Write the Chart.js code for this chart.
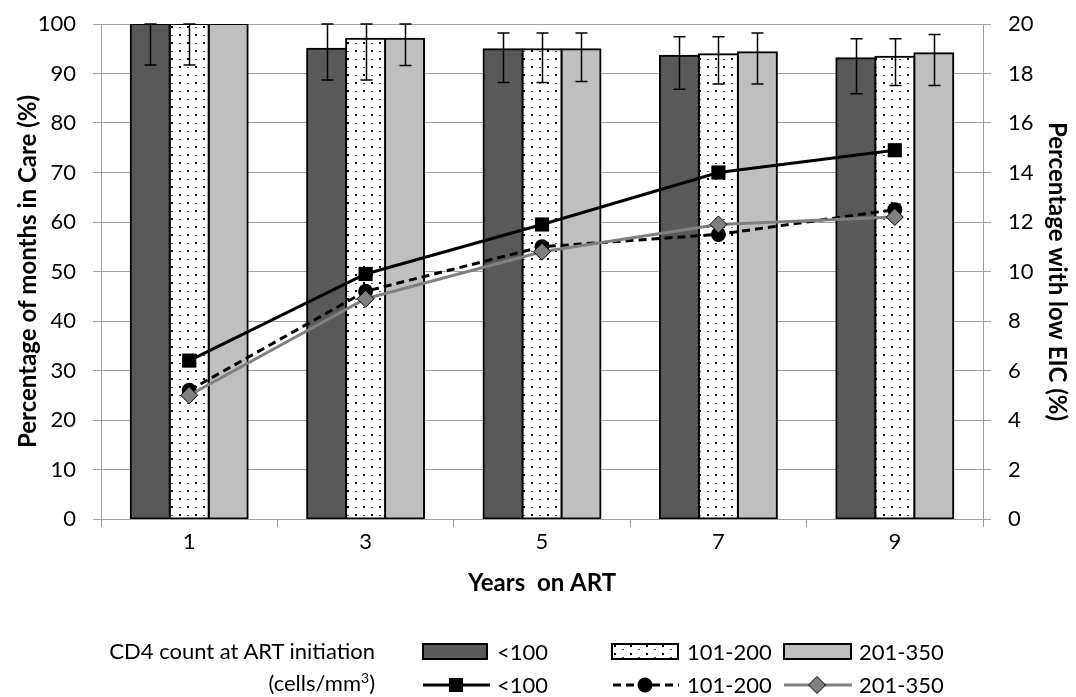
<!DOCTYPE html>
<html>
<head>
<meta charset="utf-8">
<script src="https://cdn.jsdelivr.net/npm/chart.js@4/dist/chart.umd.min.js"></script>
<style>
  html, body { margin: 0; padding: 0; background: #fff; }
  #wrap { position: relative; width: 1076px; height: 697px; font-family: Lato, sans-serif; color: #000; overflow: hidden; }
  #chart { position: absolute; left: 0; top: 0; }
  .lg { position: absolute; font-size: 22px; line-height: 22px; white-space: nowrap; }
  .ttl { right: 701px; text-align: right; }
  .sw { position: absolute; }
</style>
</head>
<body>
<div id="wrap">
  <canvas id="chart" width="1076" height="697"></canvas>

  <div class="lg ttl" style="top:640px">CD4 count at ART initiation</div>
  <div class="lg ttl" style="top:672px">(cells/mm<sup style="font-size:14px;vertical-align:8px;line-height:0">3</sup>)</div>

  <svg class="sw" style="left:422px;top:643px" width="66" height="17">
    <rect x="1" y="1" width="64" height="15" fill="#595959" stroke="#000" stroke-width="2"/>
  </svg>
  <div class="lg" style="left:497px;top:641px">&lt;100</div>

  <svg class="sw" style="left:611px;top:643px" width="68" height="17">
    <defs>
      <pattern id="dots" width="16" height="8" patternUnits="userSpaceOnUse">
        <rect x="3" y="2" width="2" height="2" fill="#000"/>
        <rect x="11" y="6" width="2" height="1" fill="#444"/>
      </pattern>
    </defs>
    <rect x="1" y="1" width="66" height="15" fill="#fff" stroke="#000" stroke-width="2"/>
    <rect x="2" y="2" width="64" height="13" fill="url(#dots)"/>
  </svg>
  <div class="lg" style="left:687px;top:641px">101-200</div>

  <svg class="sw" style="left:783px;top:643px" width="69" height="17">
    <rect x="1" y="1" width="67" height="15" fill="#bfbfbf" stroke="#000" stroke-width="2"/>
  </svg>
  <div class="lg" style="left:859px;top:641px">201-350</div>

  <svg class="sw" style="left:422px;top:675px" width="70" height="20">
    <line x1="1" y1="10" x2="68" y2="10" stroke="#000" stroke-width="3"/>
    <rect x="27" y="3" width="14" height="14" fill="#000"/>
  </svg>
  <div class="lg" style="left:497px;top:674px">&lt;100</div>

  <svg class="sw" style="left:611px;top:675px" width="70" height="20">
    <line x1="2" y1="10" x2="68" y2="10" stroke="#000" stroke-width="3" stroke-dasharray="8,5"/>
    <circle cx="34" cy="10" r="7.5" fill="#000"/>
  </svg>
  <div class="lg" style="left:687px;top:674px">101-200</div>

  <svg class="sw" style="left:782px;top:675px" width="72" height="20">
    <line x1="2" y1="10" x2="70" y2="10" stroke="#808080" stroke-width="3"/>
    <polygon points="35,1.5 43.5,10 35,18.5 26.5,10" fill="#808080" stroke="#000" stroke-width="1"/>
  </svg>
  <div class="lg" style="left:859px;top:674px">201-350</div>
</div>

<script>
// Years since ART start
const years = ['1', '3', '5', '7', '9'];

// Percentage of months in care, by CD4 count at ART initiation
const careLt100   = [100, 95.0, 94.9, 93.6, 93.1];
const care101_200 = [100, 97.0, 94.9, 93.9, 93.4];
const care201_350 = [100, 97.0, 94.9, 94.3, 94.1];

// Error bar bounds for the care bars
const careLt100Low    = [91.7, 88.7, 88.2, 86.8, 85.9];
const careLt100High   = [100, 100, 98.2, 97.4, 97.0];
const care101_200Low  = [91.7, 88.7, 88.2, 87.9, 87.6];
const care101_200High = [100, 100, 98.2, 97.4, 97.0];
const care201_350Low  = [null, 91.6, 88.4, 87.9, 87.6];
const care201_350High = [null, 100, 98.2, 98.2, 97.9];

// Percentage with low EIC (right axis)
const eicLt100   = [6.4, 9.9, 11.9, 14.0, 14.9];
const eic101_200 = [5.2, 9.2, 11.0, 11.5, 12.5];
const eic201_350 = [5.0, 8.9, 10.8, 11.9, 12.2];

const FONT = 'Lato';
const GRID = '#a0a0a0';

// Dotted fill for the middle bar series
function dotPattern() {
  const c = document.createElement('canvas');
  c.width = 16; c.height = 16;
  const g = c.getContext('2d');
  g.fillStyle = '#fff';
  g.fillRect(0, 0, 16, 16);
  g.fillStyle = '#000';
  g.fillRect(3, 2, 2, 2);
  g.fillRect(11, 10, 2, 2);
  g.fillStyle = '#555';
  g.fillRect(11, 3, 2, 1);
  g.fillRect(3, 11, 2, 1);
  return g.createPattern(c, 'repeat');
}

// Draws the vertical error bars right after each bar dataset
const errorBars = {
  id: 'errorBars',
  afterDatasetDraw(chart, args) {
    const ds = chart.data.datasets[args.index];
    if (!ds.errLow) return;
    const y = chart.scales.y;
    const area = chart.chartArea;
    const ctx = chart.ctx;
    ctx.save();
    ctx.beginPath();
    ctx.rect(area.left, area.top - 1, area.right - area.left, area.bottom - area.top + 1);
    ctx.clip();
    ctx.strokeStyle = '#000';
    ctx.lineWidth = 1.5;
    args.meta.data.forEach((bar, i) => {
      const lo = ds.errLow[i], hi = ds.errHigh[i];
      if (lo == null || hi == null) return;
      const x = Math.round(bar.x) + 0.5;
      const yl = y.getPixelForValue(lo), yh = y.getPixelForValue(hi);
      ctx.beginPath();
      ctx.moveTo(x, yh); ctx.lineTo(x, yl);
      ctx.moveTo(x - 6, yh); ctx.lineTo(x + 6, yh);
      ctx.moveTo(x - 6, yl); ctx.lineTo(x + 6, yl);
      ctx.stroke();
    });
    ctx.restore();
  }
};

// Fixed axis box sizes so the plot area keeps its place
function fixVertical(width) {
  return function (s) {
    s.width = width;
    s.paddingTop = 0;
    s.paddingBottom = 0;
  };
}

function build() {
  const ctx = document.getElementById('chart').getContext('2d');
  const barBase = {
    type: 'bar',
    yAxisID: 'y',
    borderColor: '#000',
    borderWidth: 2,
    borderSkipped: false,
    inflateAmount: 1,
    categoryPercentage: 0.663,
    barPercentage: 1.0
  };
  const lineBase = {
    type: 'line',
    yAxisID: 'y2',
    borderWidth: 3,
    tension: 0,
    fill: false
  };

  new Chart(ctx, {
    data: {
      labels: years,
      datasets: [
        Object.assign({}, barBase, {
          label: '<100', data: careLt100, backgroundColor: '#595959',
          errLow: careLt100Low, errHigh: careLt100High, order: 10
        }),
        Object.assign({}, barBase, {
          label: '101-200', data: care101_200, backgroundColor: dotPattern(),
          errLow: care101_200Low, errHigh: care101_200High, order: 11
        }),
        Object.assign({}, barBase, {
          label: '201-350', data: care201_350, backgroundColor: '#bfbfbf',
          errLow: care201_350Low, errHigh: care201_350High, order: 12
        }),
        Object.assign({}, lineBase, {
          label: '<100', data: eicLt100, borderColor: '#000',
          pointStyle: 'rect', pointRadius: 10, pointBackgroundColor: '#000',
          pointBorderColor: '#000', pointBorderWidth: 0, order: 3
        }),
        Object.assign({}, lineBase, {
          label: '101-200', data: eic101_200, borderColor: '#000', borderDash: [8, 5],
          pointStyle: 'circle', pointRadius: 7.5, pointBackgroundColor: '#000',
          pointBorderColor: '#000', pointBorderWidth: 0, order: 2
        }),
        Object.assign({}, lineBase, {
          label: '201-350', data: eic201_350, borderColor: '#808080',
          pointStyle: 'rectRot', pointRadius: 8.5, pointBackgroundColor: '#808080',
          pointBorderColor: '#000', pointBorderWidth: 1, order: 1
        })
      ]
    },
    options: {
      responsive: false,
      animation: false,
      devicePixelRatio: 1,
      layout: { autoPadding: false, padding: { top: 24, bottom: 99, left: 0, right: 0 } },
      plugins: {
        legend: { display: false },
        tooltip: { enabled: false }
      },
      scales: {
        x: {
          type: 'category',
          offset: true,
          afterFit(s) { s.height = 79; s.paddingLeft = 0; s.paddingRight = 0; },
          grid: { offset: true, drawOnChartArea: false, tickLength: 8, color: GRID, lineWidth: 1 },
          border: { color: GRID, width: 1 },
          ticks: { color: '#000', padding: 2, font: { family: FONT, size: 22 } },
          title: {
            display: true, text: 'Years  on ART', color: '#000',
            padding: { top: 0, bottom: 0 },
            font: { family: FONT, size: 24, weight: 'bold' }
          }
        },
        y: {
          position: 'left',
          min: 0, max: 100,
          afterFit: fixVertical(101),
          grid: { color: GRID, lineWidth: 1, tickLength: 8 },
          border: { color: GRID, width: 1 },
          ticks: { stepSize: 10, color: '#000', padding: 17, font: { family: FONT, size: 22 } },
          title: {
            display: true, text: 'Percentage of months in Care (%)', color: '#000',
            padding: { top: 14, bottom: 0 },
            font: { family: FONT, size: 24, weight: 'bold' }
          }
        },
        y2: {
          position: 'right',
          min: 0, max: 20,
          afterFit: fixVertical(93),
          grid: { drawOnChartArea: false, color: GRID, lineWidth: 1, tickLength: 8 },
          border: { color: GRID, width: 1 },
          ticks: { stepSize: 2, color: '#000', padding: 17, font: { family: FONT, size: 22 } },
          title: {
            display: true, text: 'Percentage with low EIC (%)', color: '#000',
            padding: { top: 5, bottom: 0 },
            font: { family: FONT, size: 24, weight: 'bold' }
          }
        }
      }
    },
    plugins: [errorBars]
  });
}

if (document.fonts && document.fonts.load) {
  Promise.all([
    document.fonts.load('22px Lato'),
    document.fonts.load('bold 24px Lato')
  ]).then(build, build);
} else {
  build();
}
</script>
</body>
</html>
